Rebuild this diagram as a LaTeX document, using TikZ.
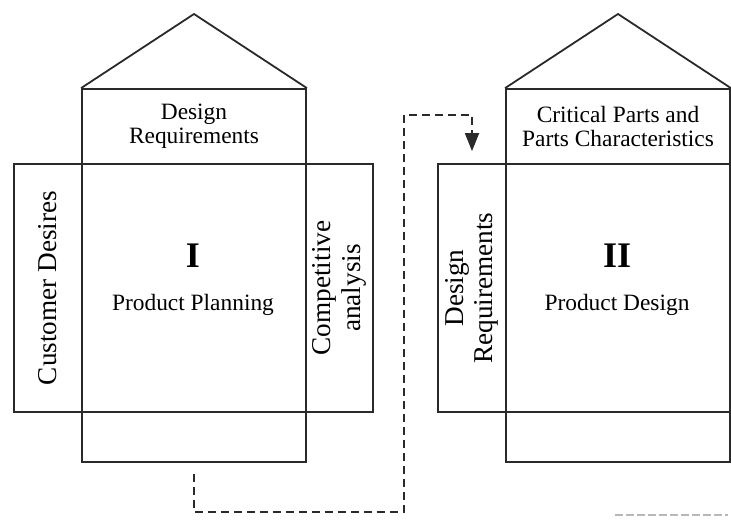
\documentclass[tikz,border=0pt]{standalone}
\usepackage{fontspec}
\setmainfont{Liberation Serif}
\usetikzlibrary{arrows.meta}
\definecolor{HouseLine}{HTML}{2A2A2A}
\definecolor{FaintGray}{HTML}{B8B8B8}

\begin{document}
\begin{tikzpicture}[x=0.5pt, y=-0.5pt, line width=0.9pt,
    cell/.style={draw=HouseLine, inner sep=0pt},
    txt/.style={align=center, font=\fontsize{11.7}{12.2}\selectfont},
    sidetxt/.style={align=center, rotate=90, font=\fontsize{13.6}{14.6}\selectfont},
    numeral/.style={font=\bfseries\fontsize{18}{20}\selectfont},
    flow/.style={draw=HouseLine, dash pattern=on 4pt off 2.5pt, line width=0.9pt}]
    \useasboundingbox (0,0) rectangle (731,521);

    % house I: product planning
    \node[cell, minimum width=112pt, minimum height=37.5pt] (top1) at (194,126.5) {};
    \node[cell, minimum width=34pt, minimum height=124pt] (left1) at (48,288) {};
    \node[cell, minimum width=112pt, minimum height=124pt] (core1) at (194,288) {};
    \node[cell, minimum width=33.5pt, minimum height=124pt] (right1) at (339.5,288) {};
    \node[cell, minimum width=112pt, minimum height=25pt] (base1) at (194,437) {};
    \coordinate (apex1) at (194,14);
    \draw[HouseLine] (top1.north west) -- (apex1) -- (top1.north east);

    \node[txt] (req1) at (top1) {Design\\Requirements};
    \node[sidetxt] (cust) at (left1) {Customer Desires};
    \node[sidetxt] (comp) at (right1) {Competitive\\analysis};
    \node[numeral] (num1) at (193,256) {I};
    \node[txt] (plan) at (193,305) {Product Planning};

    % house II: product design
    \node[cell, minimum width=112pt, minimum height=37.5pt] (top2) at (618,126.5) {};
    \node[cell, minimum width=34pt, minimum height=124pt] (left2) at (472,288) {};
    \node[cell, minimum width=112pt, minimum height=124pt] (core2) at (618,288) {};
    \node[cell, minimum width=112pt, minimum height=25pt] (base2) at (618,437) {};
    \coordinate (apex2) at (618,14);
    \draw[HouseLine] (top2.north west) -- (apex2) -- (top2.north east);

    \node[txt] (parts) at (top2) {Critical Parts and\\Parts Characteristics};
    \node[sidetxt] (req2) at (left2) {Design\\Requirements};
    \node[numeral] (num2) at (617,256) {II};
    \node[txt] (desg) at (617,305) {Product Design};

    % hand-over from house I to house II
    \coordinate (bendA) at (404,512);
    \coordinate (bendB) at (404,115);
    \draw[flow, -{Triangle[length=9pt, width=7pt]}]
        ([yshift=-5.5pt]base1.south) |- (bendA) -- (bendB) -| ([yshift=6pt]left2.north);

    % faint rule, bottom right
    \coordinate (ruleA) at (615,515);
    \coordinate (ruleB) at (728,515);
    \draw[FaintGray, line width=0.6pt, dash pattern=on 4pt off 1.5pt] (ruleA) -- (ruleB);
\end{tikzpicture}
\end{document}
